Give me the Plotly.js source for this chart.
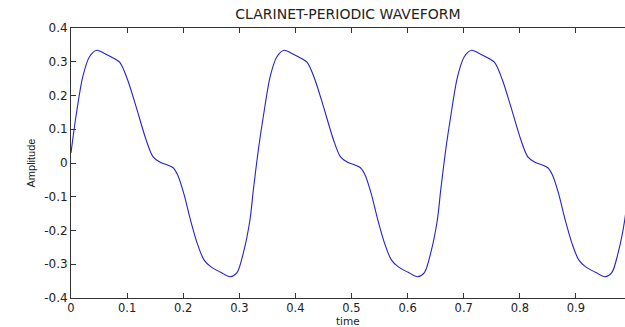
<!DOCTYPE html>
<html>
<head>
<meta charset="utf-8">
<script src="https://cdn.plot.ly/plotly-3.0.1.min.js"></script>
<style>html,body{margin:0;padding:0;background:#fff;}#chart{width:625px;height:327px;}</style>
</head>
<body>
<div id="chart"></div>
<script>
// time samples (s)
var timeValues = [
  0.000, 0.009, 0.021, 0.033, 0.046, 0.058, 0.072, 0.087, 0.101, 0.116, 0.134, 0.146, 0.159, 0.172, 0.182, 0.190, 0.201, 0.213, 0.225, 0.237, 0.249, 0.267,
  0.284, 0.296, 0.307, 0.319, 0.325, 0.334, 0.343, 0.355, 0.367, 0.380, 0.392, 0.406, 0.421, 0.435, 0.450, 0.468, 0.480, 0.493, 0.506, 0.516, 0.524, 0.535, 0.547, 0.559, 0.571, 0.583, 0.601,
  0.618, 0.630, 0.641, 0.653, 0.659, 0.668, 0.677, 0.689, 0.701, 0.714, 0.726, 0.740, 0.755, 0.769, 0.784, 0.802, 0.814, 0.827, 0.840, 0.850, 0.858, 0.869, 0.881, 0.893, 0.905, 0.917, 0.935,
  0.952, 0.964, 0.975, 0.987, 0.993
];
// amplitude samples
var amplitudeValues = [
  0.030, 0.140, 0.256, 0.315, 0.334, 0.326, 0.314, 0.298, 0.246, 0.167, 0.068, 0.019, 0.002, -0.006, -0.014, -0.035, -0.090, -0.169, -0.238, -0.287, -0.307, -0.324,
  -0.337, -0.325, -0.268, -0.169, -0.080, 0.040, 0.140, 0.256, 0.315, 0.334, 0.326, 0.314, 0.298, 0.246, 0.167, 0.068, 0.019, 0.002, -0.006, -0.014, -0.035, -0.090, -0.169, -0.238, -0.287, -0.307, -0.324,
  -0.337, -0.325, -0.268, -0.169, -0.080, 0.040, 0.140, 0.256, 0.315, 0.334, 0.326, 0.314, 0.298, 0.246, 0.167, 0.068, 0.019, 0.002, -0.006, -0.014, -0.035, -0.090, -0.169, -0.238, -0.287, -0.307, -0.324,
  -0.337, -0.325, -0.268, -0.169, -0.080
];
var xTickVals = [0, 0.1, 0.2, 0.3, 0.4, 0.5, 0.6, 0.7, 0.8, 0.9];
var xTickText = ["0", "0.1", "0.2", "0.3", "0.4", "0.5", "0.6", "0.7", "0.8", "0.9"];
var yTickVals = [0.4, 0.3, 0.2, 0.1, 0, -0.1, -0.2, -0.3, -0.4];
var yTickText = ["0.4", "0.3", "0.2", "0.1", "0", "-0.1", "-0.2", "-0.3", "-0.4"];
var chartTitle = "CLARINET-PERIODIC WAVEFORM";
var xTitle = "time";
var yTitle = "Amplitude";

var trace = {
  x: timeValues,
  y: amplitudeValues,
  type: 'scatter',
  mode: 'lines',
  line: {color: 'rgb(35,35,205)', width: 1.1, shape: 'spline', smoothing: 0.8},
  hoverinfo: 'skip'
};

var axisColor = '#333';
var layout = {
  width: 625,
  height: 327,
  margin: {l: 71, r: 0, t: 28, b: 29, pad: 0},
  paper_bgcolor: '#fff',
  plot_bgcolor: '#fff',
  showlegend: false,
  title: {
    text: chartTitle,
    x: 0.5, xref: 'paper', xanchor: 'center',
    y: 15, yref: 'container', yanchor: 'middle',
    font: {family: 'DejaVu Sans', size: 14, color: '#222'}
  },
  xaxis: {
    range: [0, 0.9875],
    tickvals: xTickVals,
    ticktext: xTickText,
    ticks: 'inside',
    ticklen: 5,
    tickcolor: axisColor,
    showline: true,
    linecolor: axisColor,
    linewidth: 1,
    mirror: 'ticks',
    showgrid: false,
    zeroline: false,
    ticklabelstandoff: -1,
    tickfont: {family: 'DejaVu Sans', size: 11.5, color: '#222'}
  },
  yaxis: {
    range: [-0.4, 0.4],
    tickvals: yTickVals,
    ticktext: yTickText,
    ticks: 'inside',
    ticklen: 5,
    tickcolor: axisColor,
    showline: true,
    linecolor: axisColor,
    linewidth: 1,
    showgrid: false,
    zeroline: false,
    tickfont: {family: 'DejaVu Sans', size: 12, color: '#222'},
    title: {text: yTitle, standoff: 6, font: {family: 'Liberation Sans', size: 11, color: '#222'}}
  },
  annotations: [{
    text: xTitle,
    xref: 'paper', x: 0.5, xanchor: 'center',
    yref: 'paper', y: 0, yshift: -23, yanchor: 'middle',
    showarrow: false, borderpad: 0,
    font: {family: 'DejaVu Sans', size: 10.5, color: '#222'}
  }]
};

Plotly.newPlot('chart', [trace], layout, {staticPlot: true, displayModeBar: false});
</script>
</body>
</html>
